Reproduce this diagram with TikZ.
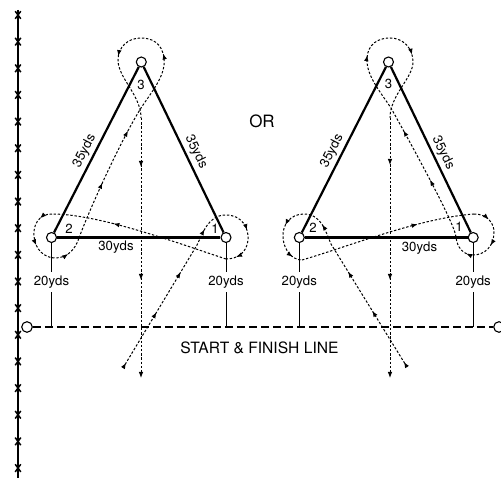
\documentclass[tikz,border=0pt]{standalone}
\usepackage{fontspec}
\setmainfont{TeX Gyre Heros}
\usetikzlibrary{arrows.meta,decorations.markings}
\tikzset{
  arw/.style={postaction={decorate,decoration={markings,mark=at position #1 with {\arrow{Latex[length=6pt,width=4.6pt]}}}}},
  cone/.style={circle,draw,fill=white,line width=1.1pt,minimum size=10pt,inner sep=0pt},
  startc/.style={circle,draw,fill=white,line width=1.1pt,minimum size=10.6pt,inner sep=0pt},
  side/.style={line width=2.2pt},
  route/.style={line width=1pt,dash pattern=on 2.4pt off 1.8pt},
  fence/.style={line width=2pt},
  fencex/.style={line width=1.5pt},
  startline/.style={line width=2.6pt,dash pattern=on 8pt off 4pt},
  yline/.style={line width=1pt},
  lab/.style={font=\fontsize{13.2}{14}\selectfont,inner sep=1pt},
  ylab/.style={font=\fontsize{13.2}{14}\selectfont,inner xsep=1pt,inner ysep=3.8pt},
  endtip/.style={-{Latex[length=6pt,width=4.6pt]}}
}
\begin{document}
\begin{tikzpicture}[x=1pt,y=-1pt]
\useasboundingbox (0,0) rectangle (501,478);

% fence
\coordinate (FT) at (18,10);
\coordinate (FB) at (18,478);
\draw[fence] (FT) -- (FB);
\foreach \k in {0,...,17}{
  \coordinate (X\k) at (18,{15+26.65*\k});
  \draw[fencex] (X\k) +(-2.8,-3.8) -- +(2.8,3.8) +(-2.8,3.8) -- +(2.8,-3.8);
}

% left route
\draw[route,arw=6pt,arw=65pt,arw=112pt,arw=161pt,arw=216pt,arw=248pt]
  (123,368) -- (197,245) .. controls (203,233) and (208,215) .. (226,215)
  .. controls (242,215) and (249,228) .. (248,240)
  .. controls (247,252) and (238,259) .. (226,259);
\draw[route,arw=118pt] (226,259) .. controls (180,244) and (100,214) .. (52,214);
\draw[route,arw=13pt,arw=42pt,arw=80pt]
  (52,214) .. controls (38,214) and (33,226) .. (34,236)
  .. controls (35,250) and (45,258) .. (55,258)
  .. controls (67,258) and (75,250) .. (79,238);
\draw[route,arw=60pt,arw=118pt,arw=205pt,arw=266pt]
  (79,238) .. controls (86,218) and (118,145) .. (141,108)
  .. controls (153,90) and (166,75) .. (164,58)
  .. controls (162,43) and (152,38) .. (141,38)
  .. controls (128,38) and (118,47) .. (118,60)
  .. controls (118,78) and (141,95) .. (141,118);
\draw[route,arw=49pt,arw=162pt,endtip] (141,118) -- (141,378);

% right route
\draw[route,arw=6pt,arw=66pt,arw=112pt,arw=166pt,arw=211pt,arw=246pt]
  (407,367) -- (331,244) .. controls (326,233) and (322,214) .. (304,214)
  .. controls (290,214) and (282,225) .. (283,238)
  .. controls (284,250) and (292,260) .. (302,260);
\draw[route,arw=121pt] (302,260) .. controls (350,246) and (420,218) .. (474,214);
\draw[route,arw=16pt,arw=44pt,arw=72pt]
  (474,214) .. controls (488,214) and (494,224) .. (494,232)
  .. controls (494,246) and (485,255) .. (473,255)
  .. controls (463,255) and (457,247) .. (456,237);
\draw[route,arw=63pt,arw=119pt,arw=204pt,arw=265pt]
  (456,237) .. controls (455,225) and (420,160) .. (391,108)
  .. controls (379,90) and (366,75) .. (367,58)
  .. controls (368,44) and (378,38) .. (390,38)
  .. controls (403,38) and (413,48) .. (413,62)
  .. controls (413,78) and (390,95) .. (390,118);
\draw[route,arw=47pt,arw=162pt,endtip] (390,118) -- (390,378);

% start line
\node[startc] (SL) at (27,327) {};
\node[startc] (SR) at (499,327) {};
\draw[startline] (SL) -- (SR);

% cones
\node[cone] (L1) at (226,237.5) {};
\node[cone] (L2) at (51.5,237.5) {};
\node[cone] (L3) at (141.3,62) {};
\node[cone] (R1) at (473.2,237.5) {};
\node[cone] (R2) at (299.3,237.5) {};
\node[cone] (R3) at (388.5,62) {};

% triangles
\draw[side] (L2) -- (L3);
\draw[side] (L3) -- (L1);
\draw[side] (L1) -- (L2);
\draw[side] (R2) -- (R3);
\draw[side] (R3) -- (R1);
\draw[side] (R1) -- (R2);

% 20yds connectors
\node[ylab] (L2y) at (51.5,282) {20yds};
\node[ylab] (L1y) at (226,282) {20yds};
\node[ylab] (R2y) at (299.3,282) {20yds};
\node[ylab] (R1y) at (473.2,282) {20yds};
\draw[yline] (L2) -- (L2y);
\draw[yline] (L2y) -- (L2y |- SL);
\draw[yline] (L1) -- (L1y);
\draw[yline] (L1y) -- (L1y |- SL);
\draw[yline] (R2) -- (R2y);
\draw[yline] (R2y) -- (R2y |- SL);
\draw[yline] (R1) -- (R1y);
\draw[yline] (R1y) -- (R1y |- SL);

% side labels
\node[lab,rotate=63] (La) at (84.5,151) {35yds};
\node[lab,rotate=-64] (Lb) at (196,152) {35yds};
\node[lab] (Lc) at (116,247) {30yds};
\node[lab,rotate=63] (Ra) at (332,151) {35yds};
\node[lab,rotate=-64] (Rb) at (443,153) {35yds};
\node[lab] (Rc) at (419.5,248) {30yds};

% cone numbers
\node[lab] (nL3) at (141,85) {3};
\node[lab] (nL2) at (69,229) {2};
\node[lab] (nL1) at (215,229) {1};
\node[lab] (nR3) at (388.5,84) {3};
\node[lab] (nR2) at (313,228) {2};
\node[lab] (nR1) at (459,227) {1};

% texts
\node[font=\fontsize{17}{18}\selectfont,inner sep=0pt] (OR) at (262,121) {OR};
\node[font=\fontsize{15.6}{17}\selectfont,inner sep=0pt] (SF) at (259.5,347.5) {START \& FINISH LINE};
\end{tikzpicture}
\end{document}
